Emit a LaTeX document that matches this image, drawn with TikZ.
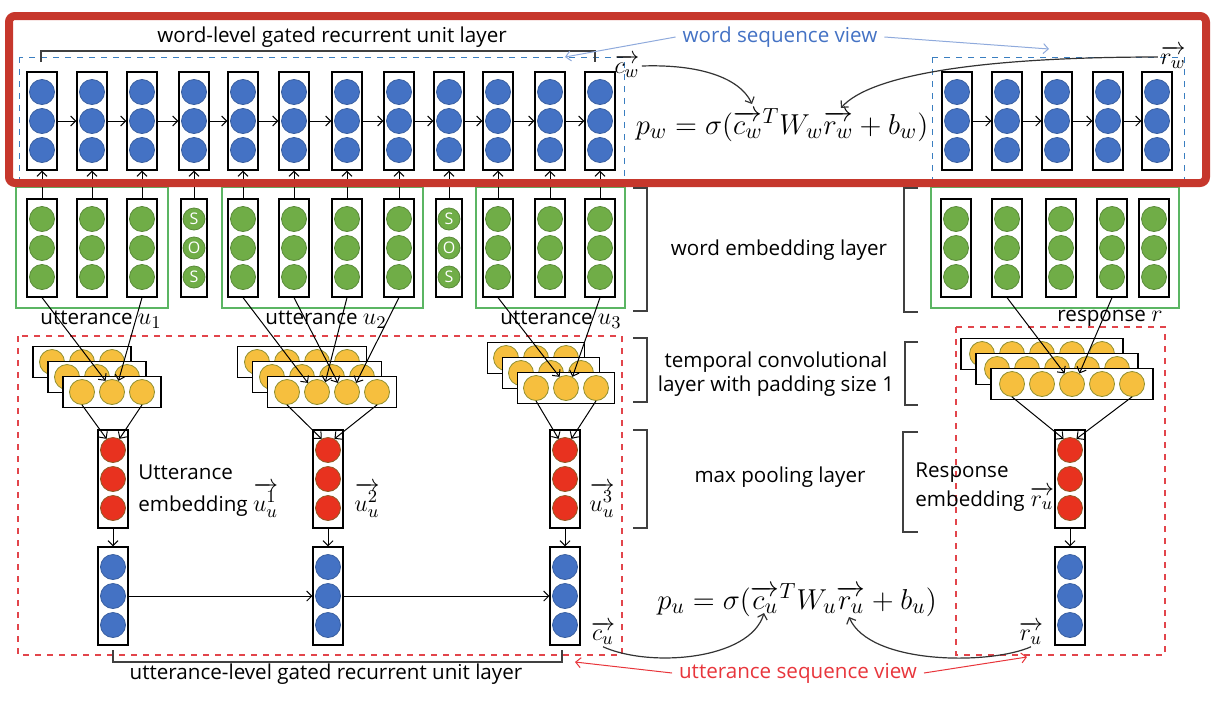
\documentclass[tikz,border=0pt]{standalone}
\usepackage{fontspec}
\setmainfont{Open Sans}
\usepackage{amsmath}
\usetikzlibrary{arrows.meta}
\definecolor{gblue}{HTML}{4472C4}
\definecolor{gblueline}{HTML}{3A5F9F}
\definecolor{egreen}{HTML}{70AD47}
\definecolor{egreenline}{HTML}{5A8A3A}
\definecolor{cyellow}{HTML}{F6BF3E}
\definecolor{cyellowline}{HTML}{8F8F30}
\definecolor{pred}{HTML}{E8321F}
\definecolor{predline}{HTML}{8F5A25}
\definecolor{framered}{HTML}{C6372C}
\definecolor{grpgreen}{HTML}{5BB563}
\definecolor{dashred}{HTML}{E2454B}
\definecolor{dashblue}{HTML}{3A7EC0}
\definecolor{viewblue}{HTML}{4472C4}
\definecolor{viewline}{HTML}{8FAADC}
\definecolor{viewred}{HTML}{E8353B}
\newcommand{\lblmath}[1]{{\fontsize{13}{15}\selectfont$#1$}}
\begin{document}
\begin{tikzpicture}[x=.5pt,y=-.5pt,font=\fontsize{10.3}{12}\selectfont,
  col/.style={draw,line width=.6pt,minimum width=15pt,minimum height=49pt,inner sep=0pt},
  sos/.style={col,minimum width=13pt},
  dot/.style={circle,inner sep=0pt,minimum size=12.5pt,line width=.4pt},
  bdot/.style={dot,fill=gblue,draw=gblueline},
  gdot/.style={dot,fill=egreen,draw=egreenline},
  sdot/.style={gdot,minimum size=11pt,text=white,font=\fontsize{8}{8}\selectfont},
  ydot/.style={dot,fill=cyellow,draw=cyellowline},
  rdot/.style={dot,fill=pred,draw=predline},
  arr/.style={-{Straight Barb[length=2.5pt,width=5pt]},line width=.5pt},
  curve/.style={arr,line width=.6pt,black!80},
  grp/.style={grpgreen,line width=1pt},
  brk/.style={line width=.6pt,black!75},
  vec/.style={font=\fontsize{13}{15}\selectfont,inner sep=1pt},
  eq/.style={font=\fontsize{15}{17}\selectfont}]
  \useasboundingbox (0,0) rectangle (1220,702);
  % views
  \draw[dashblue,dashed,line width=.5pt] (19,57) rectangle (624,180);
  \draw[dashblue,dashed,line width=.5pt] (932,57) rectangle (1184,180);
  \draw[dashred,dashed,line width=.6pt] (18,336) rectangle (622,655);
  \draw[dashred,dashed,line width=.6pt] (956,327) rectangle (1165,655);
  % utterance groups
  \draw[grp] (16,187) rectangle (168,308);
  \draw[grp] (222,187) rectangle (423,308);
  \draw[grp] (476,187) rectangle (625,308);
  \draw[grp] (931,187) rectangle (1179,308);
  % word-level GRU and word embedding
  \foreach \i/\x in {1/42,2/92,3/142,4/194,5/243,6/294,7/347,8/399,9/449,10/498,11/550,12/600} {
    \node[col] (w\i) at (\x,121) {};
    \foreach \y in {92,121,150} \node[bdot] at (\x,\y) {};
  }
  \foreach \i [count=\j from 2] in {1,...,11} \draw[arr] (w\i) -- (w\j);
  \foreach \i/\x in {1/42,2/92,3/142,5/243,6/294,7/347,8/399,10/498,11/550,12/600} {
    \node[col] (e\i) at (\x,248) {};
    \foreach \y in {219,248,277} \node[gdot] at (\x,\y) {};
  }
  \foreach \i/\x in {4/194,9/449} {
    \node[sos] (e\i) at (\x,248) {};
    \foreach \y/\c in {219/S,248/O,277/S} \node[sdot] at (\x,\y) {\c};
  }
  \foreach \i in {1,...,12} \draw[arr] (e\i) -- (w\i);
  % response words
  \foreach \i/\x in {1/957,2/1007,3/1057,4/1108,5/1157} {
    \node[col] (rw\i) at (\x,121) {};
    \foreach \y in {92,121,150} \node[bdot] at (\x,\y) {};
  }
  \foreach \i [count=\j from 2] in {1,...,4} \draw[arr] (rw\i) -- (rw\j);
  \foreach \i/\x in {1/956,2/1007,3/1061,4/1112,5/1154} {
    \node[col] (re\i) at (\x,248) {};
    \foreach \y in {219,248,277} \node[gdot] at (\x,\y) {};
  }
  % temporal convolution stacks
  \foreach \n/\x/\y/\w/\k in {u1/112/392/98/3,u2/332/392/129/4,u3/566/388/97/3,r/1072/384/162/5} {
    \foreach \s in {2,1,0} {
      \node[draw,fill=white,line width=.6pt,inner sep=0pt,minimum width=\w*.5pt,minimum height=15.5pt]
        (c\n-\s) at (\x-15*\s,\y-15*\s) {};
      \foreach \j in {1,...,\k}
        \node[ydot] (c\n-\s-\j) at ({\x-15*\s+(\j-(\k+1)/2)*30},\y-15*\s) {};
    }
  }
  % max pooling and utterance-level GRU
  \foreach \n/\x in {u1/113,u2/328,u3/565,r/1070} {
    \node[col] (p\n) at (\x,479) {};
    \foreach \y [count=\k] in {450,479,508} \node[rdot] (p\n-\k) at (\x,\y) {};
    \node[col] (g\n) at (\x,596) {};
    \foreach \y in {567,596,625} \node[bdot] at (\x,\y) {};
    \draw[arr] (p\n) -- (g\n);
  }
  \draw[arr] (gu1) -- (gu2);
  \draw[arr] (gu2) -- (gu3);
  % embedding -> convolution
  \draw[arr] (e1.south) -- (cu1-0-2.120);
  \draw[arr] (e3.south) -- (cu1-0-2.60);
  \draw[arr] (e5.south) -- (cu2-0-2.135);
  \draw[arr] (e6.south) -- (cu2-0-3.135);
  \draw[arr] (e7.south) -- (cu2-0-2.50);
  \draw[arr] (e8.south) -- (cu2-0-3.45);
  \draw[arr] (e10.south) -- (cu3-0-2.120);
  \draw[arr] (e12.south) -- (cu3-0-2.60);
  \draw[arr] (re2.south) -- (cr-0-3.125);
  \draw[arr] (re4.south) -- (cr-0-3.55);
  % convolution -> pooling
  \draw[arr] (cu1-0-1.south) -- (pu1-1.120);
  \draw[arr] (cu1-0-3.south) -- (pu1-1.60);
  \draw[arr] (cu2-0-1.south) -- (pu2-1.120);
  \draw[arr] (cu2-0-4.south) -- (pu2-1.60);
  \draw[arr] (cu3-0-1.south) -- (pu3-1.120);
  \draw[arr] (cu3-0-3.south) -- (pu3-1.60);
  \draw[arr] (cr-0-1.south) -- (pr-1.120);
  \draw[arr] (cr-0-5.south) -- (pr-1.60);
  % red frame
  \draw[framered,line width=4pt,rounded corners=3pt] (9,16) rectangle (1206,183);
  % brackets
  \draw[brk] (41,62) -- (41,51) -- (595,51) -- (595,62);
  \draw[brk] (113,650) -- (113,662) -- (562,662) -- (562,650);
  \draw[brk] (633,188) -- (647,188) -- (647,311) -- (633,311);
  \draw[brk] (918,188) -- (904,188) -- (904,312) -- (918,312);
  \draw[brk] (633,338) -- (647,338) -- (647,402) -- (633,402);
  \draw[brk] (918,342) -- (905,342) -- (905,405) -- (918,405);
  \draw[brk] (633,430) -- (647,430) -- (647,528) -- (633,528);
  \draw[brk] (918,432) -- (903,432) -- (903,532) -- (918,532);
  % layer texts
  \node (wgru) at (332,37) {word-level gated recurrent unit layer};
  \node (wemb) at (779,250) {word embedding layer};
  \node[align=center] (tconv) at (776,374) {temporal convolutional\\layer with padding size 1};
  \node (mpool) at (780,477) {max pooling layer};
  \node (ugru) at (326,674) {utterance-level gated recurrent unit layer};
  \node (lu1) at (101,320) {utterance \lblmath{u_1}};
  \node (lu2) at (326,320) {utterance \lblmath{u_2}};
  \node (lu3) at (561,320) {utterance \lblmath{u_3}};
  \node (lr) at (1110,318) {response \lblmath{r}};
  \node[anchor=west,inner sep=1pt] (uemb) at (136,472) {Utterance};
  \node[anchor=west,inner sep=1pt] (uemb1) at (136,500) {embedding \lblmath{\overrightarrow{u_u^1}}};
  \node[vec] (uemb2) at (367,500) {$\overrightarrow{u_u^2}$};
  \node[vec] (uemb3) at (602,500) {$\overrightarrow{u_u^3}$};
  \node[anchor=west,inner sep=1pt] (remb) at (913,473) {Response};
  \node[anchor=west,inner sep=1pt] (remb1) at (913,499) {embedding \lblmath{\overrightarrow{r_u}}};
  % matching
  \node[vec] (cw) at (627,66) {$\overrightarrow{c_w}$};
  \node[vec] (rwl) at (1173,57) {$\overrightarrow{r_w}$};
  \node[vec] (cu) at (603,633) {$\overrightarrow{c_u}$};
  \node[vec] (ru) at (1031,633) {$\overrightarrow{r_u}$};
  \node[eq] (pw) at (782,125) {$p_w=\sigma(\overrightarrow{c_w}^T W_w\overrightarrow{r_w}+b_w)$};
  \node[eq] (pu) at (797,600) {$p_u=\sigma(\overrightarrow{c_u}^T W_u\overrightarrow{r_u}+b_u)$};
  \coordinate (pwc) at (752,104);
  \coordinate (pwr) at (841,108);
  \coordinate (puc) at (764,613);
  \coordinate (pur) at (849,617);
  \draw[curve] (cw.east) .. controls (700,64) and (740,78) .. (pwc);
  \draw[curve] (rwl.west) .. controls (980,57) and (870,75) .. (pwr);
  \draw[curve] (cu.south) .. controls (650,668) and (750,660) .. (puc);
  \draw[curve] (ru.south) .. controls (990,665) and (870,665) .. (pur);
  % views
  \node[text=viewblue] (wsv) at (780,37) {word sequence view};
  \coordinate (wsl) at (565,57);
  \coordinate (wsr) at (1049,49);
  \draw[arr,viewline] (wsv.west) -- (wsl);
  \draw[arr,viewline] (wsv.east) -- (wsr);
  \node[text=viewred] (usv) at (798,673) {utterance sequence view};
  \coordinate (usl) at (575,662);
  \coordinate (usr) at (1027,657);
  \draw[arr,viewred] (usv.west) -- (usl);
  \draw[arr,viewred] (usv.east) -- (usr);
\end{tikzpicture}
\end{document}
